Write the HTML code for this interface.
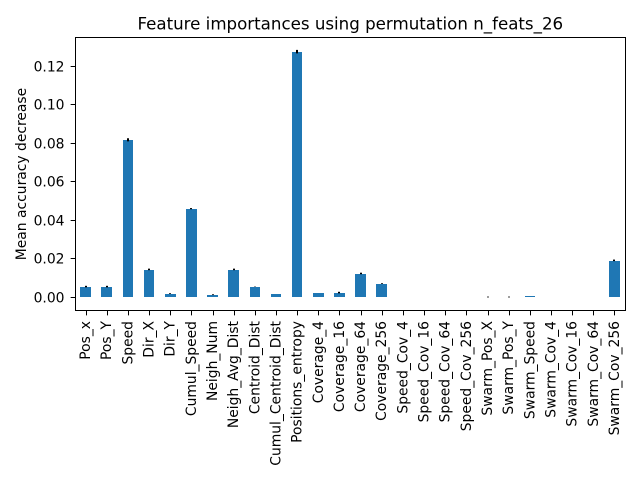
<!DOCTYPE html>
<html>
<head>
<meta charset="utf-8">
<style>
html,body{margin:0;padding:0;background:#fff;}
svg{display:block;}
text{font-family:"DejaVu Sans",sans-serif;fill:#000;}
</style>
</head>
<body>
<svg id="chart" width="640" height="480" viewBox="0 0 640 480" xmlns="http://www.w3.org/2000/svg">
<text x="350.3" y="29.5" font-size="16.67" text-anchor="middle">Feature importances using permutation n_feats_26</text>
<text transform="translate(26,174) rotate(-90)" font-size="13.89" text-anchor="middle">Mean accuracy decrease</text>
<g id="marks"></g>
<g id="ticks"></g>
<rect x="75.5" y="37.5" width="550" height="273" fill="none" stroke="#000" stroke-width="1"></rect>
</svg>
<script>
const categories = ["Pos_x","Pos_Y","Speed","Dir_X","Dir_Y","Cumul_Speed","Neigh_Num","Neigh_Avg_Dist","Centroid_Dist","Cumul_Centroid_Dist","Positions_entropy","Coverage_4","Coverage_16","Coverage_64","Coverage_256","Speed_Cov_4","Speed_Cov_16","Speed_Cov_64","Speed_Cov_256","Swarm_Pos_X","Swarm_Pos_Y","Swarm_Speed","Swarm_Cov_4","Swarm_Cov_16","Swarm_Cov_64","Swarm_Cov_256"];
const importances = [0.0054,0.0054,0.0815,0.0143,0.0018,0.0458,0.0012,0.0143,0.0054,0.0018,0.1272,0.0023,0.0023,0.0122,0.007,0,0,0,0,0,0,0.0006,0,0,0,0.019];
const errors = [0.0004,0.0004,0.0008,0.0004,0.0002,0.0003,0.0002,0.0004,0.0001,0,0.0009,0,0.0004,0.0004,0.0002,0,0,0,0,0.0002,0.0002,0,0,0,0,0.0004];
const yTickValues = [0,0.02,0.04,0.06,0.08,0.1,0.12];
const yTickLabels = ["0.00","0.02","0.04","0.06","0.08","0.10","0.12"];

const NS = "http://www.w3.org/2000/svg";
const plotLeft = 75.5, plotRight = 625.5, plotBottom = 310.5;
const zeroY = 297.5, pxPerUnit = 1929;
const slot = (plotRight - plotLeft) / categories.length;
const xScale = i => plotLeft + slot * (i + 0.5);
const yScale = v => zeroY - v * pxPerUnit;
const barCenter = i => 85.565 + 21.16 * i;
const barHalf = 5.315;
const marks = document.getElementById("marks");
const ticks = document.getElementById("ticks");

function make(tag, attrs, parent) {
  const el = document.createElementNS(NS, tag);
  for (const k in attrs) el.setAttribute(k, attrs[k]);
  parent.appendChild(el);
  return el;
}

categories.forEach((name, i) => {
  const v = importances[i], e = errors[i], cx = xScale(i);
  const top = Math.round(yScale(Math.max(v, 0))), base = Math.floor(yScale(0));
  const snapX = Math.floor(cx) + 0.5;
  if (v > 0) {
    const left = Math.round(barCenter(i) - barHalf), right = Math.round(barCenter(i) + barHalf);
    const bar = make("rect", {x: left, y: top, width: right - left, height: Math.max(base - top, 1), fill: "#1f77b4", "shape-rendering": "crispEdges"}, marks);
    
    
  }
  if (e > 0) {
    const err = make("line", {x1: Math.floor(cx), x2: Math.floor(cx), y1: yScale(v + e) - 0.5, y2: yScale(v - e) - 0.5, stroke: "#000", "stroke-width": 2}, marks);
    
    
  }
  const tick = make("line", {x1: snapX, x2: snapX, y1: plotBottom, y2: plotBottom + 4.86, stroke: "#000", "stroke-width": 1}, ticks);
  
  
  const label = make("text", {"font-size": 13.89, "text-anchor": "end", transform: "translate(" + (cx + 4) + "," + (plotBottom + 10.5) + ") rotate(-90)"}, ticks);
  label.textContent = name;
  
  
});

yTickValues.forEach((v, i) => {
  const y = Math.floor(yScale(v)) + 0.5;
  const tick = make("line", {x1: plotLeft - 4.86, x2: plotLeft, y1: y, y2: y, stroke: "#000", "stroke-width": 1}, ticks);
  
  
  const label = make("text", {x: plotLeft - 11, y: y + 5, "font-size": 13.89, "text-anchor": "end"}, ticks);
  label.textContent = yTickLabels[i];
  
  
});
</script>
</body>
</html>
